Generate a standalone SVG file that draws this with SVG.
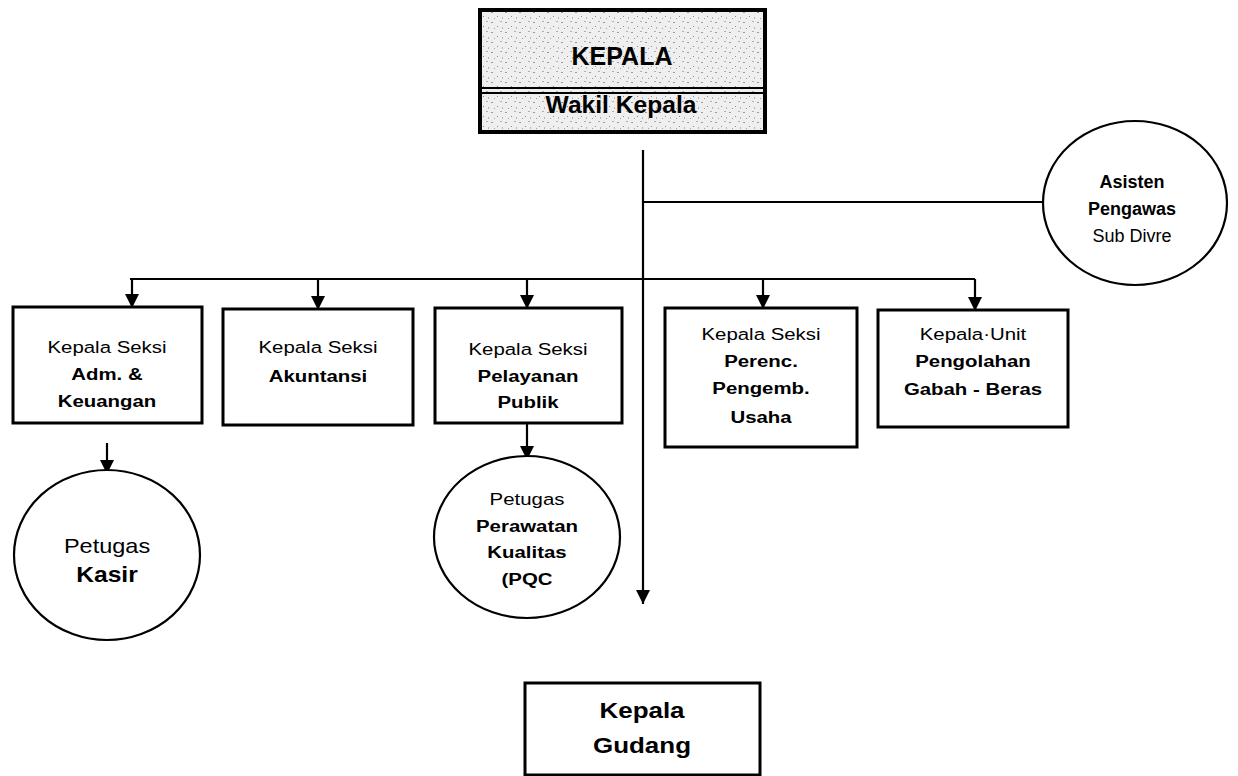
<svg xmlns="http://www.w3.org/2000/svg" width="1238" height="776" viewBox="0 0 1238 776">
<defs>
<style>
.box{fill:#fff;stroke:#000;stroke-width:3}
.oval{fill:#fff;stroke:#000;stroke-width:2.2}
.ln{fill:none;stroke:#000;stroke-width:2.2}
text{font-family:"Liberation Sans",Arial,Helvetica,sans-serif;fill:#000;text-anchor:middle}
.r{font-size:17px}
.b{font-size:17px;font-weight:bold}
</style>
<marker id="arr" viewBox="0 0 14 14" refX="14" refY="7" markerWidth="14" markerHeight="14" markerUnits="userSpaceOnUse" orient="auto">
<path d="M0,0 L14,7 L0,14 z" fill="#000"/>
</marker>
<pattern id="speckle" width="14" height="10" patternUnits="userSpaceOnUse">
<rect width="14" height="10" fill="#efefef"/>
<rect x="1" y="2" width="2" height="1" fill="#9a9a9a"/>
<rect x="7" y="6" width="1" height="1" fill="#8a8a8a"/>
<rect x="10" y="1" width="2" height="1" fill="#b0b0b0"/>
<rect x="4" y="8" width="1" height="1" fill="#a0a0a0"/>
<rect x="12" y="7" width="1" height="2" fill="#b5b5b5"/>
</pattern>
</defs>
<rect width="1238" height="776" fill="#fff"/>

<g id="connectors">
<line class="ln" x1="643" y1="150" x2="643" y2="604" marker-end="url(#arr)"/>
<line class="ln" x1="643" y1="202" x2="1043" y2="202"/>
<line class="ln" x1="130" y1="279" x2="975" y2="279"/>
<line class="ln" x1="132" y1="279" x2="132" y2="308" marker-end="url(#arr)"/>
<line class="ln" x1="318" y1="279" x2="318" y2="310" marker-end="url(#arr)"/>
<line class="ln" x1="527" y1="279" x2="527" y2="309" marker-end="url(#arr)"/>
<line class="ln" x1="763" y1="279" x2="763" y2="309" marker-end="url(#arr)"/>
<line class="ln" x1="975" y1="279" x2="975" y2="311" marker-end="url(#arr)"/>
<line class="ln" x1="107" y1="443" x2="107" y2="474" marker-end="url(#arr)"/>
<line class="ln" x1="527" y1="423" x2="527" y2="460" marker-end="url(#arr)"/>
</g>

<g id="kepala">
<rect x="480" y="10" width="285" height="122" fill="url(#speckle)" stroke="#000" stroke-width="4"/>
<line x1="480" y1="88" x2="765" y2="88" stroke="#000" stroke-width="2"/>
<line x1="480" y1="93" x2="765" y2="93" stroke="#000" stroke-width="2"/>
<text x="622" y="65" style="font-size:25px;font-weight:bold">KEPALA</text>
<g transform="translate(621,0) scale(1.07,1)"><text x="0" y="113" style="font-size:23px;font-weight:bold">Wakil Kepala</text></g>
</g>

<g id="asisten">
<ellipse class="oval" cx="1135" cy="203" rx="92" ry="82"/>
<text x="1132" y="188" style="font-size:18px;font-weight:bold">Asisten</text>
<text x="1132" y="215" style="font-size:18px;font-weight:bold">Pengawas</text>
<text x="1132" y="242" style="font-size:18px">Sub Divre</text>
</g>

<g id="seksi-adm">
<rect class="box" x="13" y="307" width="189" height="116"/>
<g transform="translate(107,0) scale(1.2,1)">
<text class="r" x="0" y="353">Kepala Seksi</text>
<text class="b" x="0" y="380">Adm. &amp;</text>
<text class="b" x="0" y="407">Keuangan</text>
</g>
</g>

<g id="seksi-akuntansi">
<rect class="box" x="223" y="309" width="190" height="116"/>
<g transform="translate(318,0) scale(1.2,1)">
<text class="r" x="0" y="353">Kepala Seksi</text>
<text class="b" x="0" y="382">Akuntansi</text>
</g>
</g>

<g id="seksi-pelayanan">
<rect class="box" x="435" y="308" width="187" height="115"/>
<g transform="translate(528,0) scale(1.2,1)">
<text class="r" x="0" y="355">Kepala Seksi</text>
<text class="b" x="0" y="382">Pelayanan</text>
<text class="b" x="0" y="408">Publik</text>
</g>
</g>

<g id="seksi-perenc">
<rect class="box" x="665" y="308" width="192" height="139"/>
<g transform="translate(761,0) scale(1.2,1)">
<text class="r" x="0" y="340">Kepala Seksi</text>
<text class="b" x="0" y="367">Perenc.</text>
<text class="b" x="0" y="394">Pengemb.</text>
<text class="b" x="0" y="423">Usaha</text>
</g>
</g>

<g id="unit-pengolahan">
<rect class="box" x="878" y="310" width="190" height="117"/>
<g transform="translate(973,0) scale(1.2,1)">
<text class="r" x="0" y="340">Kepala·Unit</text>
<text class="b" x="0" y="367">Pengolahan</text>
<text class="b" x="0" y="395">Gabah - Beras</text>
</g>
</g>

<g id="kasir">
<ellipse class="oval" cx="107" cy="555" rx="93" ry="85"/>
<g transform="translate(107,0) scale(1.12,1)">
<text x="0" y="553" style="font-size:21px">Petugas</text>
<text x="0" y="582" style="font-size:22px;font-weight:bold">Kasir</text>
</g>
</g>

<g id="pqc">
<ellipse class="oval" cx="527" cy="537" rx="93" ry="81"/>
<g transform="translate(527,0) scale(1.2,1)">
<text class="r" x="0" y="505">Petugas</text>
<text class="b" x="0" y="532">Perawatan</text>
<text class="b" x="0" y="558">Kualitas</text>
<text class="b" x="0" y="585">(PQC</text>
</g>
</g>

<g id="gudang">
<rect class="box" x="525" y="683" width="235" height="92"/>
<g transform="translate(642,0) scale(1.18,1)">
<text x="0" y="718" style="font-size:22px;font-weight:bold">Kepala</text>
<text x="0" y="753" style="font-size:22px;font-weight:bold">Gudang</text>
</g>
</g>
</svg>
